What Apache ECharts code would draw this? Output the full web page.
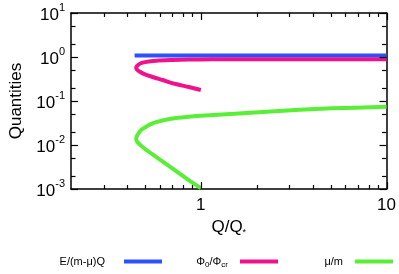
<!DOCTYPE html>
<html>
<head>
<meta charset="utf-8">
<script src="https://cdn.jsdelivr.net/npm/echarts@6/dist/echarts.min.js"></script>
<style>html,body{margin:0;padding:0;background:#fff}#c{width:399px;height:274px}</style>
</head>
<body>
<div id="c"></div>
<script>
// Data (x = Q/Q*, y = quantity)
var energyX = [0.44, 0.6, 1.0, 2.0, 5.0, 10.0];
var energyY = [1.08, 1.08, 1.08, 1.08, 1.08, 1.08];

var phiX = [1.0, 0.862, 0.732, 0.623, 0.531, 0.49, 0.47, 0.455, 0.449, 0.45, 0.46, 0.475, 0.5, 0.574, 0.703, 0.86, 1.14, 2.0, 5.0, 10.0];
var phiY = [0.178, 0.208, 0.243, 0.30, 0.37, 0.42, 0.463, 0.51, 0.555, 0.60, 0.66, 0.72, 0.765, 0.824, 0.855, 0.872, 0.885, 0.89, 0.89, 0.89];

var muX = [1.0, 0.862, 0.703, 0.574, 0.509, 0.475, 0.455, 0.449, 0.452, 0.46, 0.475, 0.5, 0.531, 0.574, 0.703, 0.862, 1.0, 1.52, 2.27, 3.4, 5.1, 10.0];
var muY = [0.00105, 0.0016, 0.00295, 0.0054, 0.0077, 0.0098, 0.0118, 0.0135, 0.0155, 0.018, 0.0215, 0.025, 0.029, 0.033, 0.040, 0.044, 0.046, 0.051, 0.057, 0.063, 0.068, 0.074];

var xMajorTicks = [1, 10];
var xMinorTicks = [0.3, 0.4, 0.5, 0.6, 0.7, 0.8, 0.9, 2, 3, 4, 5, 6, 7, 8, 9];
var yMajorTicks = [0.001, 0.01, 0.1, 1, 10];
var yMinorTicks = [0.002, 0.005, 0.02, 0.05, 0.2, 0.5, 2, 5];

var seriesNames = ['E/(m-\u03bc)Q', '\u03a6cr', '\u03bc/m'];

function pairs(xs, ys) { return xs.map(function (x, i) { return [x, ys[i]]; }); }

var FONT = 'Liberation Sans';
var X_MIN = 0.2, X_MAX = 10, Y_MIN = 0.001, Y_MAX = 10;
var axisLine = { show: true, onZero: false, lineStyle: { color: '#000', width: 1.5 } };

var dataX = {
  type: 'log', position: 'bottom', min: X_MIN, max: X_MAX,
  axisLine: axisLine, splitLine: { show: false }, axisTick: { show: false },
  axisLabel: {
    show: true, customValues: xMajorTicks, margin: 8, color: '#000',
    fontFamily: FONT, fontSize: 17,
    formatter: function (v) { return String(Math.round(v)); }
  },
  name: '{a|Q/Q}{s|*}', nameLocation: 'middle', nameGap: 25,
  nameTextStyle: { rich: {
    a: { fontFamily: FONT, fontSize: 17, color: '#000', lineHeight: 20 },
    s: { fontFamily: FONT, fontSize: 9, color: '#000', verticalAlign: 'bottom', lineHeight: 12 }
  } }
};
var dataXTop = {
  type: 'log', position: 'top', min: X_MIN, max: X_MAX,
  axisLine: axisLine, splitLine: { show: false }, axisTick: { show: false }, axisLabel: { show: false }
};
var dataY = {
  type: 'log', position: 'left', min: Y_MIN, max: Y_MAX,
  axisLine: axisLine, splitLine: { show: false }, axisTick: { show: false },
  axisLabel: {
    show: true, customValues: yMajorTicks, margin: 6,
    formatter: function (v) { return '{b|10}{s|' + Math.round(Math.log10(v)) + '}'; },
    rich: {
      b: { fontFamily: FONT, fontSize: 17, color: '#000', lineHeight: 22, verticalAlign: 'bottom' },
      s: { fontFamily: FONT, fontSize: 11, color: '#000', lineHeight: 12, verticalAlign: 'top' }
    }
  },
  name: 'Quantities', nameLocation: 'middle', nameGap: 46,
  nameTextStyle: { fontFamily: FONT, fontSize: 17, color: '#000' }
};
var dataYRight = {
  type: 'log', position: 'right', min: Y_MIN, max: Y_MAX,
  axisLine: axisLine, splitLine: { show: false }, axisTick: { show: false }, axisLabel: { show: false }
};

var legendBase = {
  orient: 'horizontal', align: 'right', padding: 0, top: 256,
  itemWidth: 38, itemHeight: 4, icon: 'rect', selectedMode: false
};
function legendFor(name, right, pad, fmt) {
  return Object.assign({}, legendBase, {
    data: [name], right: right, formatter: fmt,
    textStyle: {
      fontFamily: FONT, fontSize: 11, color: '#000', padding: [0, pad, 0, 0],
      rich: {
        t: { fontFamily: FONT, fontSize: 11, color: '#000' },
        sub: { fontFamily: FONT, fontSize: 8, color: '#000', verticalAlign: 'bottom', padding: [6, 0, 0, 0] }
      }
    }
  });
}

function isMajor(list, v) { return list.some(function (m) { return Math.abs(m - v) < 1e-9 * m; }); }
function tickLine(x1, y1, x2, y2) {
  return { type: 'line', shape: { x1: x1, y1: y1, x2: x2, y2: y2 }, style: { stroke: '#000', lineWidth: 1.2 } };
}
// inward ticks on bottom and top edges, placed by the x axis scale
function renderXTick(params, api) {
  var v = api.value(0);
  var len = isMajor(xMajorTicks, v) ? 7 : 4;
  var b = api.coord([v, Y_MIN]), t = api.coord([v, Y_MAX]);
  var x = Math.round(b[0]) + 0.5;
  return { type: 'group', children: [tickLine(x, b[1], x, b[1] - len), tickLine(x, t[1], x, t[1] + len)] };
}
// inward ticks on left and right edges, placed by the y axis scale
function renderYTick(params, api) {
  var v = api.value(1);
  var len = isMajor(yMajorTicks, v) ? 7 : 4.5;
  var l = api.coord([X_MIN, v]), r = api.coord([X_MAX, v]);
  var y = Math.round(l[1]) + 0.5;
  return { type: 'group', children: [tickLine(l[0], y, l[0] + len, y), tickLine(r[0], y, r[0] - len, y)] };
}

var colors = ['#2e50ff', '#f0128c', '#58ef36'];

var option = {
  animation: false,
  backgroundColor: '#fff',
  grid: { left: 66, right: 10, top: 13, bottom: 85 },
  xAxis: [dataX, dataXTop],
  yAxis: [dataY, dataYRight],
  legend: [
    legendFor(seriesNames[0], 237, 14, function (n) { return n; }),
    legendFor(seriesNames[1], 121, 7, function () { return '{t|\u03a6}{sub|0}{t|/\u03a6}{sub|cr}'; }),
    legendFor(seriesNames[2], 6, 7, function (n) { return n; })
  ],
  series: [
    { name: seriesNames[0], type: 'line', data: pairs(energyX, energyY),
      showSymbol: false, lineStyle: { width: 4, color: colors[0] }, itemStyle: { color: colors[0] } },
    { name: seriesNames[1], type: 'line', data: pairs(phiX, phiY), smooth: 0.3,
      showSymbol: false, lineStyle: { width: 4, color: colors[1] }, itemStyle: { color: colors[1] } },
    { name: seriesNames[2], type: 'line', data: pairs(muX, muY), smooth: 0.3,
      showSymbol: false, lineStyle: { width: 4, color: colors[2] }, itemStyle: { color: colors[2] } },
    { type: 'custom', name: 'xticks', silent: true, z: 10, clip: false, renderItem: renderXTick,
      encode: { x: 0, y: 1 },
      data: xMajorTicks.concat(xMinorTicks).map(function (v) { return [v, Y_MIN]; }) },
    { type: 'custom', name: 'yticks', silent: true, z: 10, clip: false, renderItem: renderYTick,
      encode: { x: 0, y: 1 },
      data: yMajorTicks.concat(yMinorTicks).map(function (v) { return [X_MIN, v]; }) }
  ]
};
var chart = echarts.init(document.getElementById('c'), null, { renderer: 'canvas' });
chart.setOption(option);
</script>
</body>
</html>
